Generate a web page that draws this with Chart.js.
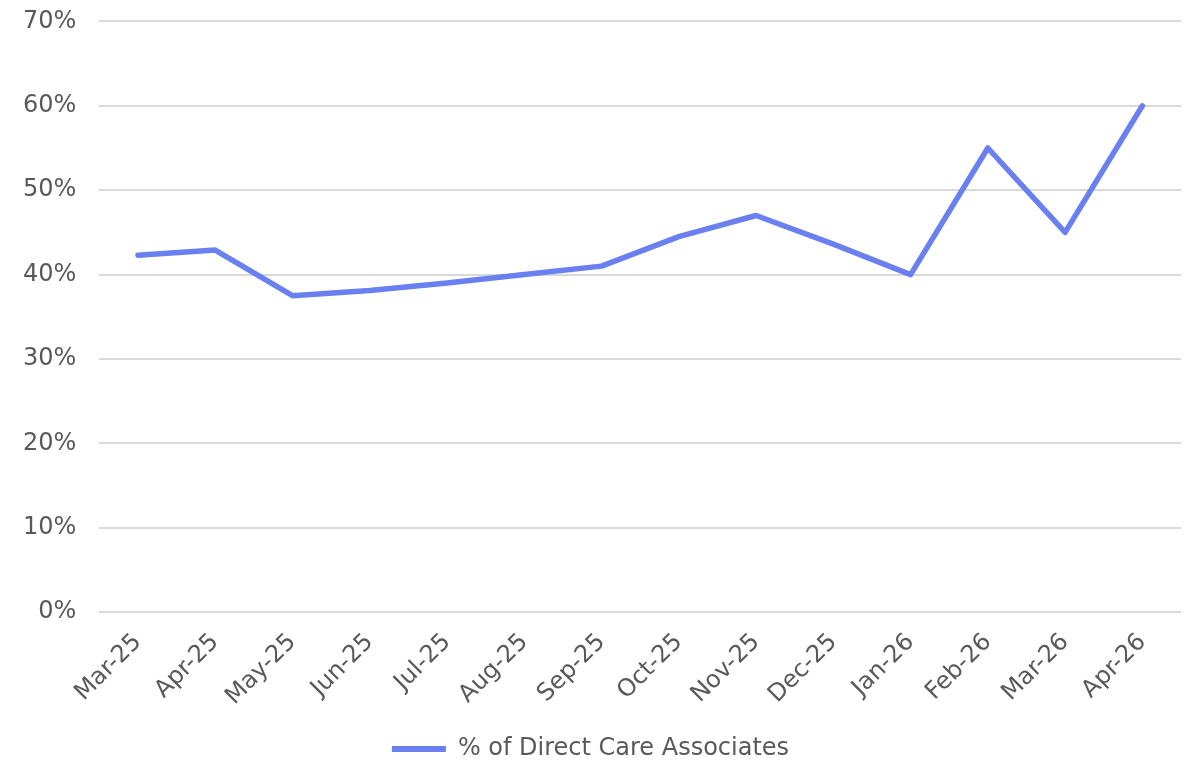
<!DOCTYPE html>
<html>
<head>
<meta charset="utf-8">
<script src="https://cdn.jsdelivr.net/npm/chart.js@4.4.0/dist/chart.umd.min.js"></script>
<style>
  html, body { margin: 0; padding: 0; background: #fff; overflow: hidden; }
  #outer { width: 1187px; height: 763px; overflow: hidden; position: relative; }
  #wrap { width: 1187px; height: 779px; position: absolute; top: -16px; left: 0; }
</style>
</head>
<body>
<div id="outer"><div id="wrap"><canvas id="mycanvas"></canvas></div></div>
<script>
var months = ['Mar-25','Apr-25','May-25','Jun-25','Jul-25','Aug-25','Sep-25','Oct-25','Nov-25','Dec-25','Jan-26','Feb-26','Mar-26','Apr-26'];
var pctDirectCare = [42.3, 42.9, 37.5, 38.1, 39.0, 40.0, 41.0, 44.5, 47.0, 43.6, 40.0, 55.0, 45.0, 60.0];
var seriesName = '% of Direct Care Associates';

var textColor = '#595959';
var fontFamily = '"DejaVu Sans", Verdana, sans-serif';

var ctx = document.getElementById('mycanvas');
var lineChart = new Chart(ctx, {
    type: 'line',
    data: {
        labels: months,
        datasets: [{
            label: seriesName,
            data: pctDirectCare,
            borderColor: '#6a80f0',
            backgroundColor: '#6a80f0',
            borderWidth: 5.5,
            pointRadius: 0,
            pointHoverRadius: 0,
            tension: 0,
            borderCapStyle: 'round',
            borderJoinStyle: 'round'
        }]
    },
    options: {
        responsive: true,
        maintainAspectRatio: false,
        animation: false,
        layout: { padding: { left: 0, right: 6, top: 0, bottom: -8 } },
        plugins: {
            legend: {
                position: 'bottom',
                labels: {
                    color: textColor,
                    font: { family: fontFamily, size: 24 },
                    boxWidth: 54,
                    boxHeight: 6,
                    padding: 18,
                    generateLabels: function(chart) {
                        var ds = chart.data.datasets[0];
                        return [{
                            text: ds.label,
                            fillStyle: ds.borderColor,
                            strokeStyle: ds.borderColor,
                            lineWidth: 0,
                            fontColor: textColor,
                            datasetIndex: 0
                        }];
                    }
                }
            },
            tooltip: { enabled: false }
        },
        scales: {
            x: {
                offset: true,
                grid: { display: false },
                border: { display: false },
                ticks: {
                    color: textColor,
                    font: { family: fontFamily, size: 24 },
                    maxRotation: 45,
                    minRotation: 45,
                    autoSkip: false,
                    padding: 8
                }
            },
            y: {
                min: 0,
                max: 70,
                grid: { color: '#d9d9d9', lineWidth: 2, drawTicks: false },
                border: { display: false },
                ticks: {
                    stepSize: 10,
                    color: textColor,
                    font: { family: fontFamily, size: 24 },
                    padding: 23,
                    callback: function(v) { return v + '%'; }
                }
            }
        }
    }
});
</script>
</body>
</html>
